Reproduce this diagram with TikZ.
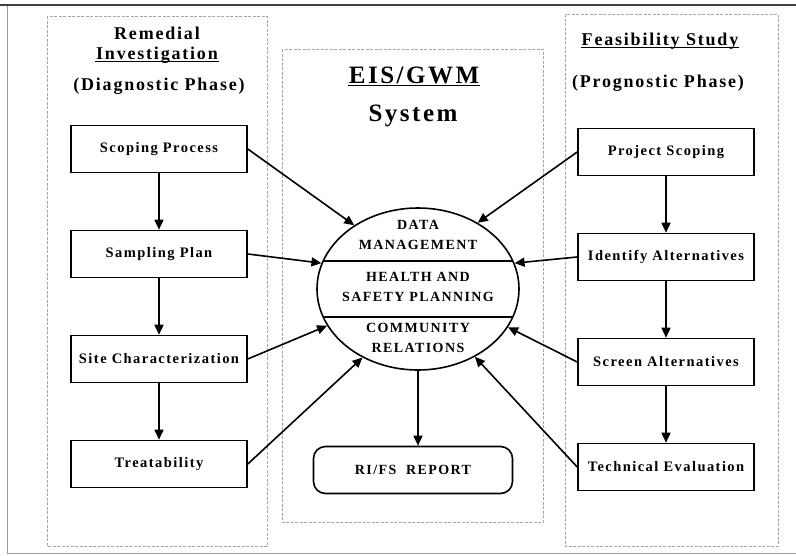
\documentclass[tikz,border=0pt]{standalone}
\usepackage{fontspec}
\setmainfont{Liberation Serif}[LetterSpace=10]
\usetikzlibrary{arrows.meta,positioning,shapes.geometric,calc}

\begin{document}
\begin{tikzpicture}[x=1pt,y=-1pt,line width=1.6pt,
   >={Triangle[length=10pt,width=9pt]},node distance=105pt,on grid,
   stepbox/.style={draw,minimum width=176pt,minimum height=47pt,inner sep=0pt,
     font=\fontsize{14.5}{16}\selectfont\bfseries},
   panel/.style={draw=gray!70,line width=0.6pt,dash pattern=on 3pt off 1.5pt},
   headtxt/.style={anchor=base,inner sep=0pt,font=\fontsize{18}{20}\selectfont\bfseries},
   bigtxt/.style={anchor=base,inner sep=0pt,font=\fontsize{25}{28}\selectfont\bfseries},
   sectxt/.style={align=center,inner sep=0pt,font=\fontsize{14}{20}\selectfont\bfseries},
   uline/.style={line width=1.5pt}]
   \useasboundingbox (0,0) rectangle (796,555);
   % frame and the three phases
   \draw[gray!80,line width=1pt] (796,5) -- (7,5) -- (7,553) -- (796,553);
   \draw[black!75,line width=2pt] (0,5) -- (796,5);
   \draw[panel] (47,16) rectangle (267,546);
   \draw[panel] (282,49) rectangle (543,522);
   \draw[panel] (565,14) rectangle (778,546);
   % headings
   \node[headtxt] (rem) at (157,39) {Remedial};
   \node[headtxt] (inv) at (157,59) {Investigation};
   \node[headtxt] (diag) at (159,90) {(Diagnostic Phase)};
   \node[bigtxt] (eis) at (414,83) {EIS/GWM};
   \node[bigtxt] (sys) at (413,121) {System};
   \node[headtxt] (feas) at (660,45) {Feasibility Study};
   \node[headtxt] (prog) at (658,87) {(Prognostic Phase)};
   \draw[uline] ([yshift=-2.5pt]inv.base west) -- ([yshift=-2.5pt]inv.base east);
   \draw[uline] ([yshift=-2.5pt]eis.base west) -- ([yshift=-2.5pt]eis.base east);
   \draw[uline] ([yshift=-2.5pt]feas.base west) -- ([yshift=-2.5pt]feas.base east);
   % diagnostic steps
   \node[stepbox] (scope) at (159,149) {Scoping Process};
   \node[stepbox] (sample) [below=of scope] {Sampling Plan};
   \node[stepbox] (site) [below=of sample] {Site Characterization};
   \node[stepbox] (treat) [below=of site] {Treatability};
   % prognostic steps
   \node[stepbox] (pscope) at (666,152) {Project Scoping};
   \node[stepbox] (ident) [below=of pscope] {Identify Alternatives};
   \node[stepbox] (screen) [below=of ident] {Screen Alternatives};
   \node[stepbox] (tech) [below=of screen] {Technical Evaluation};
   % the system
   \node[draw,ellipse,minimum width=202pt,minimum height=162pt,inner sep=0pt] (ell) at (418,289) {};
   \draw ($(ell.center)+(-95,-28)$) -- ($(ell.center)+(95,-28)$);
   \draw ($(ell.center)+(-95,28)$) -- ($(ell.center)+(95,28)$);
   \node[sectxt] (data) at (418,235) {DATA\\MANAGEMENT};
   \node[sectxt] (health) at (418,287) {HEALTH AND\\SAFETY PLANNING};
   \node[sectxt] (comm) at (418,338) {COMMUNITY\\RELATIONS};
   \node[draw,rounded corners=12pt,minimum width=199pt,minimum height=47pt,
     font=\fontsize{14}{16}\selectfont\bfseries] (rep) at (413,470) {RI/FS~~REPORT};
    \path[->]
    (scope) edge (sample)
    (sample) edge (site)
    (site) edge (treat)
    (pscope) edge (ident)
    (ident) edge (screen)
    (screen) edge (tech)
    (scope.east) edge (ell.135)
    (sample.east) edge (ell.165)
    (site.east) edge (ell.202)
    (treat.east) edge (ell.231)
    (pscope.west) edge (ell.48)
    (ident.west) edge (ell.15)
    (screen.west) edge (ell.337)
    (tech.west) edge (ell.310)
    (ell.south) edge (ell.south |- rep.north);
\end{tikzpicture}
\end{document}
